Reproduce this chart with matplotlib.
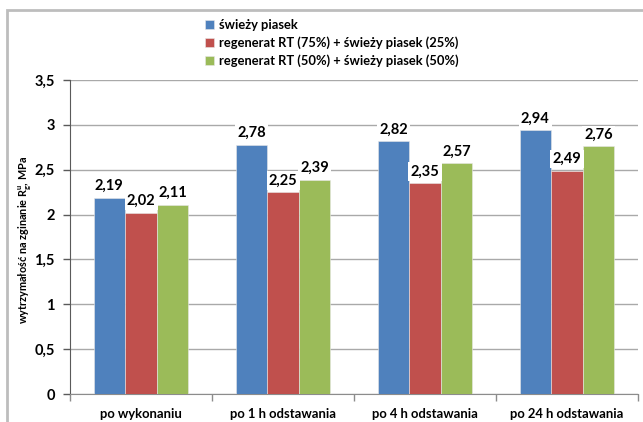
import matplotlib
matplotlib.use("Agg")
import matplotlib.pyplot as plt
import numpy as np
from matplotlib.ticker import FuncFormatter, MultipleLocator
from matplotlib.patches import Rectangle

categories = ["po wykonaniu", "po 1 h odstawania", "po 4 h odstawania", "po 24 h odstawania"]
series_names = [
    "świeży piasek",
    "regenerat RT (75%) + świeży piasek (25%)",
    "regenerat RT (50%) + świeży piasek (50%)",
]
fresh_sand = [2.19, 2.78, 2.82, 2.94]
rt75_fresh25 = [2.02, 2.25, 2.35, 2.49]
rt50_fresh50 = [2.11, 2.39, 2.57, 2.76]
colors = ["#4F81BD", "#C0504D", "#9BBB59"]

plt.rcParams["font.family"] = ["Lato", "DejaVu Sans"]
plt.rcParams["font.weight"] = "bold"
plt.rcParams["mathtext.fontset"] = "custom"
plt.rcParams["mathtext.rm"] = "Lato:bold"
plt.rcParams["mathtext.bf"] = "Lato:bold"

fig = plt.figure(figsize=(6.43, 4.22), dpi=100)
ax = fig.add_axes([70 / 643, 1 - 394 / 422, 568 / 643, 314 / 422])

# outer chart frame
fig.patches.append(Rectangle((7 / 643, -0.05), 1.1, 1 - 10 / 422 + 0.05,
                             transform=fig.transFigure, fill=False,
                             edgecolor="#bdbdbd", lw=2, zorder=0))

x = np.arange(len(categories))
w = 0.223
series = [fresh_sand, rt75_fresh25, rt50_fresh50]
for i, (vals, name, c) in enumerate(zip(series, series_names, colors)):
    ax.bar(x + (i - 1) * w, vals, w, color=c, label=name, zorder=3,
           edgecolor="#e8e8e8", linewidth=0.4)
    for xi, v in zip(x + (i - 1) * w, vals):
        ax.text(xi, v + 0.13, f"{v:.2f}".replace(".", ","), ha="center",
                va="center", fontsize=10.5, fontweight="bold", zorder=5,
                bbox=dict(boxstyle="square,pad=0.15", fc="white", ec="none"))

ax.set_xlim(-0.5, len(categories) - 0.5)
ax.set_ylim(0, 3.5)
ax.yaxis.set_major_locator(MultipleLocator(0.5))
ax.yaxis.set_major_formatter(FuncFormatter(lambda v, p: f"{v:g}".replace(".", ",")))
ax.grid(axis="y", color="#a9a9a9", lw=1, zorder=0)
ax.set_axisbelow(True)

ax.set_xticks(x)
ax.set_xticklabels(categories, fontsize=9.4, fontweight="bold")
ax.tick_params(axis="x", length=0, pad=10)
ax.set_xticks(np.arange(len(categories) + 1) - 0.5, minor=True)
ax.tick_params(axis="x", which="minor", length=5, color="#8c8c8c", width=1)
ax.tick_params(axis="y", length=5, color="#5a5a5a", width=1, labelsize=10.5, pad=6)
for lab in ax.get_yticklabels():
    lab.set_fontweight("bold")

for s in ["top", "right"]:
    ax.spines[s].set_visible(False)
ax.spines["left"].set_color("#5a5a5a")
ax.spines["bottom"].set_color("#8c8c8c")

ax.set_ylabel(r"wytrzymałość na zginanie R$_{\mathrm{g}}^{\mathrm{u}}$, MPa",
              fontsize=7.8, fontweight="bold")
ax.yaxis.set_label_coords(-0.066, 0.49)

leg = fig.legend(loc="upper left", bbox_to_anchor=(205 / 643, 1 - 19 / 422),
                 frameon=False, fontsize=9.3, handlelength=0.7,
                 handleheight=0.7, handletextpad=0.35, labelspacing=0.42,
                 borderpad=0, borderaxespad=0)
for t in leg.get_texts():
    t.set_fontweight("bold")

fig.savefig("out.png", dpi=100)
